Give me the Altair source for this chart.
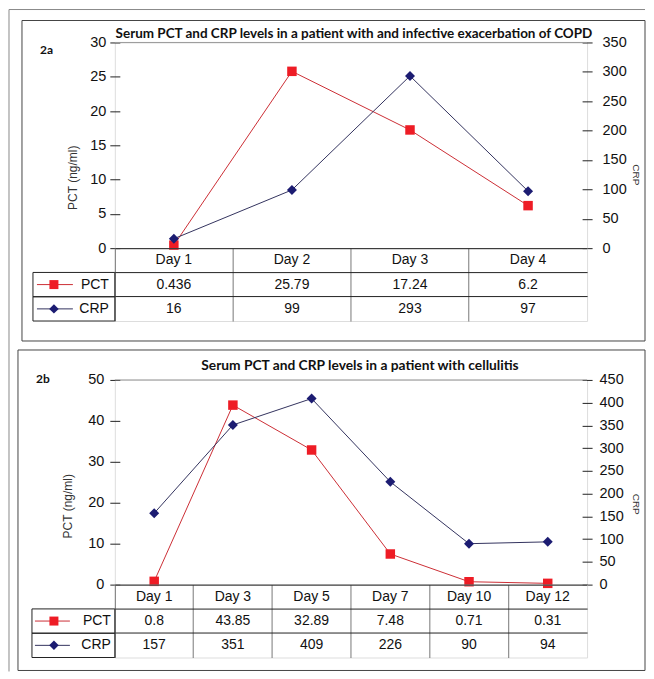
import altair as alt
import pandas as pd

# ---------------- data ----------------
A_TITLE = "Serum PCT and CRP levels in a patient with and infective exacerbation of COPD"
A_DAYS = ["Day 1", "Day 2", "Day 3", "Day 4"]
A_PCT = [0.436, 25.79, 17.24, 6.2]
A_CRP = [16, 99, 293, 97]
A_PCT_TICKS = [0, 5, 10, 15, 20, 25, 30]
A_CRP_TICKS = [0, 50, 100, 150, 200, 250, 300, 350]

B_TITLE = "Serum PCT and CRP levels in a patient with cellulitis"
B_DAYS = ["Day 1", "Day 3", "Day 5", "Day 7", "Day 10", "Day 12"]
B_PCT = [0.8, 43.85, 32.89, 7.48, 0.71, 0.31]
B_CRP = [157, 351, 409, 226, 90, 94]
B_PCT_TICKS = [0, 10, 20, 30, 40, 50]
B_CRP_TICKS = [0, 50, 100, 150, 200, 250, 300, 350, 400, 450]

SERIES = ["PCT", "CRP"]
ROWS = ["hdr", "PCT", "CRP"]
PCT_AXIS_TITLE = "PCT (ng/ml)"
CRP_AXIS_TITLE = "CRP"

# ---------------- style ----------------
FONT = "Liberation Sans"
TFONT = "Lato"
RED_LINE = "#CC2E35"
RED_MARK = "#EE1C25"
NAVY_LINE = "#33335E"
NAVY_MARK = "#1C1C72"
INK = "#111111"
W = 473
TABLE_H = 73
GAP = 59


def make_panel(p, frame=False):
    days = p["days"]
    df = pd.DataFrame({"Day": days, "PCT": p["pct"], "CRP": p["crp"]})
    xs = alt.X("Day:N", scale=alt.Scale(type="point", domain=days, padding=0.5), axis=None)

    def yaxis(orient, ticks, title, tx, ty, pad, angle):
        return alt.Axis(
            orient=orient, values=ticks, offset=-5, tickSize=10, domain=False, grid=False,
            tickColor="#222", tickWidth=1, labelFont=FONT, labelFontSize=14.5, labelColor=INK,
            labelPadding=pad, labelFlush=False, labelOverlap=False,
            title=title, titleX=tx, titleY=ty, titleAngle=angle, titleAlign="center",
            titleBaseline="middle", titleFont=FONT,
            titleFontSize=12 if orient == "left" else 10,
            titleFontWeight="normal", titleColor="#333",
        )

    pct = alt.Chart(df).mark_line(
        color=RED_LINE, strokeWidth=1,
        point=alt.OverlayMarkDef(shape="square", size=90, filled=True, color=RED_MARK, opacity=1),
    ).encode(
        x=xs,
        y=alt.Y("PCT:Q", scale=alt.Scale(domain=[0, max(p["pct_ticks"])], nice=False, zero=True),
                axis=yaxis("left", p["pct_ticks"], PCT_AXIS_TITLE, p["ltitle"][0], p["ltitle"][1], p["lpad"], 270)),
    )
    crp = alt.Chart(df).mark_line(
        color=NAVY_LINE, strokeWidth=1,
        point=alt.OverlayMarkDef(shape="diamond", size=100, filled=True, color=NAVY_MARK, opacity=1),
    ).encode(
        x=xs,
        y=alt.Y("CRP:Q", scale=alt.Scale(domain=[0, max(p["crp_ticks"])], nice=False, zero=True),
                axis=yaxis("right", p["crp_ticks"], CRP_AXIS_TITLE, p["rtitle"][0], p["rtitle"][1], p["rpad"], 90)),
    )

    deco = alt.Chart(pd.DataFrame({"k": [0]}))
    bx0, bx1, by0, by1 = p["box"]
    layers = []
    if frame:
        layers.append(deco.mark_rule(color="#8a8a8a", strokeWidth=1).encode(
            x=alt.value(-106), x2=alt.value(531), y=alt.value(-33)))
        layers.append(deco.mark_rule(color="#8a8a8a", strokeWidth=1).encode(
            x=alt.value(-106), y=alt.value(-33), y2=alt.value(630)))
    layers.append(deco.mark_rect(fillOpacity=0, stroke="#444", strokeWidth=1).encode(
        x=alt.value(bx0), x2=alt.value(bx1), y=alt.value(by0), y2=alt.value(by1)))
    top_rule = deco.mark_rule(color="#9a9a9a", strokeWidth=1).encode(
        x=alt.value(0), x2=alt.value(W), y=alt.value(0))
    label = deco.mark_text(text=p["label"], align="left", baseline="middle", font=TFONT,
                           fontWeight="bold", fontSize=12, color=INK).encode(
        x=alt.value(p["lab"][0]), y=alt.value(p["lab"][1]))
    title = deco.mark_text(text=p["title"], align="center", baseline="alphabetic", font=TFONT,
                           fontWeight="bold", fontSize=p["tsize"], color=INK).encode(
        x=alt.value(W / 2 + p["tdx"]), y=alt.value(-p["toff"]))

    plot = alt.layer(*layers, top_rule, pct, crp, label, title).resolve_scale(y="independent").properties(
        width=W, height=p["H"])

    # ---------------- table ----------------
    recs = []
    for d, a, c in zip(days, p["pct"], p["crp"]):
        recs.append({"Day": d, "row": "hdr", "val": d})
        recs.append({"Day": d, "row": "PCT", "val": str(a)})
        recs.append({"Day": d, "row": "CRP", "val": str(c)})
    tdf = pd.DataFrame(recs)
    xb = alt.Scale(type="band", domain=days, paddingInner=0, paddingOuter=0)
    yb = alt.Scale(type="band", domain=ROWS, paddingInner=0, paddingOuter=0)
    xax = alt.Axis(labels=False, ticks=False, domain=False, grid=True, bandPosition=0,
                   gridColor="#777", gridWidth=1, title=None)
    yax = alt.Axis(labels=False, ticks=False, domain=False, grid=True, bandPosition=0,
                   gridColor="#222", gridWidth=1, title=None)

    cells = alt.Chart(tdf).mark_text(font=FONT, fontSize=14, color=INK, baseline="middle",
                                     align="center").encode(
        x=alt.X("Day:N", scale=xb, bandPosition=0.5, axis=xax),
        y=alt.Y("row:N", scale=yb, bandPosition=0.5, axis=yax),
        text="val:N",
    )
    lx0, l1, l2, lm, lt = p["leg"]
    ldf = pd.DataFrame({"row": SERIES, "lc": [RED_LINE, NAVY_LINE], "mc": [RED_MARK, NAVY_MARK],
                        "shape": ["square", "diamond"], "sz": [81, 90]})
    yc = alt.Y("row:N", scale=yb, bandPosition=0.5, axis=yax)
    leg_rect = alt.Chart(ldf).mark_rect(fillOpacity=0, stroke="#222", strokeWidth=1).encode(
        x=alt.value(lx0), x2=alt.value(0), y=alt.Y("row:N", scale=yb, axis=yax))
    leg_line = alt.Chart(ldf).mark_rule(strokeWidth=1).encode(
        x=alt.value(l1), x2=alt.value(l2), y=yc, color=alt.Color("lc:N", scale=None))
    leg_pt = alt.Chart(ldf).mark_point(filled=True, opacity=1).encode(
        x=alt.value(lm), y=yc, shape=alt.Shape("shape:N", scale=None),
        color=alt.Color("mc:N", scale=None), size=alt.Size("sz:Q", scale=None))
    leg_txt = alt.Chart(ldf).mark_text(align="right", baseline="middle", font=FONT, fontSize=14,
                                       color=INK).encode(x=alt.value(lt), y=yc, text="row:N")
    table = alt.layer(cells, leg_rect, leg_line, leg_pt, leg_txt).properties(width=W, height=TABLE_H)
    return plot, table


PA = dict(label="2a", title=A_TITLE, days=A_DAYS, pct=A_PCT, crp=A_CRP,
          pct_ticks=A_PCT_TICKS, crp_ticks=A_CRP_TICKS, H=206,
          box=(-93, 531, -22, 299), lab=(-75, 8), ltitle=(-47, 135), rtitle=(53, 132),
          lpad=4, rpad=10, toff=4, tdx=3, tsize=13.5, leg=(-82, -78, -42, -61, -6))
PB = dict(label="2b", title=B_TITLE, days=B_DAYS, pct=B_PCT, crp=B_CRP,
          pct_ticks=B_PCT_TICKS, crp_ticks=B_CRP_TICKS, H=205,
          box=(-97, 531, -30, 291), lab=(-79, -1), ltitle=(-52, 126), rtitle=(53, 124),
          lpad=6, rpad=7, toff=10, tdx=9, tsize=13.8, leg=(-83, -80, -45, -61, -4))

plot_a, table_a = make_panel(PA, frame=True)
plot_b, table_b = make_panel(PB)
spacer = alt.Chart(pd.DataFrame({"k": [0]})).mark_point(opacity=0).encode(
    x=alt.value(0), y=alt.value(0)
).properties(width=W, height=GAP, view=alt.ViewBackground(stroke="transparent"))

chart = alt.vconcat(plot_a, table_a, spacer, plot_b, table_b, spacing=0, bounds="flush").resolve_scale(
    x="independent", y="independent"
).properties(padding=0).configure_view(stroke="#222", strokeWidth=1).configure(font=FONT)

chart.save("out.html", embed_options={"renderer": "svg", "actions": False})
